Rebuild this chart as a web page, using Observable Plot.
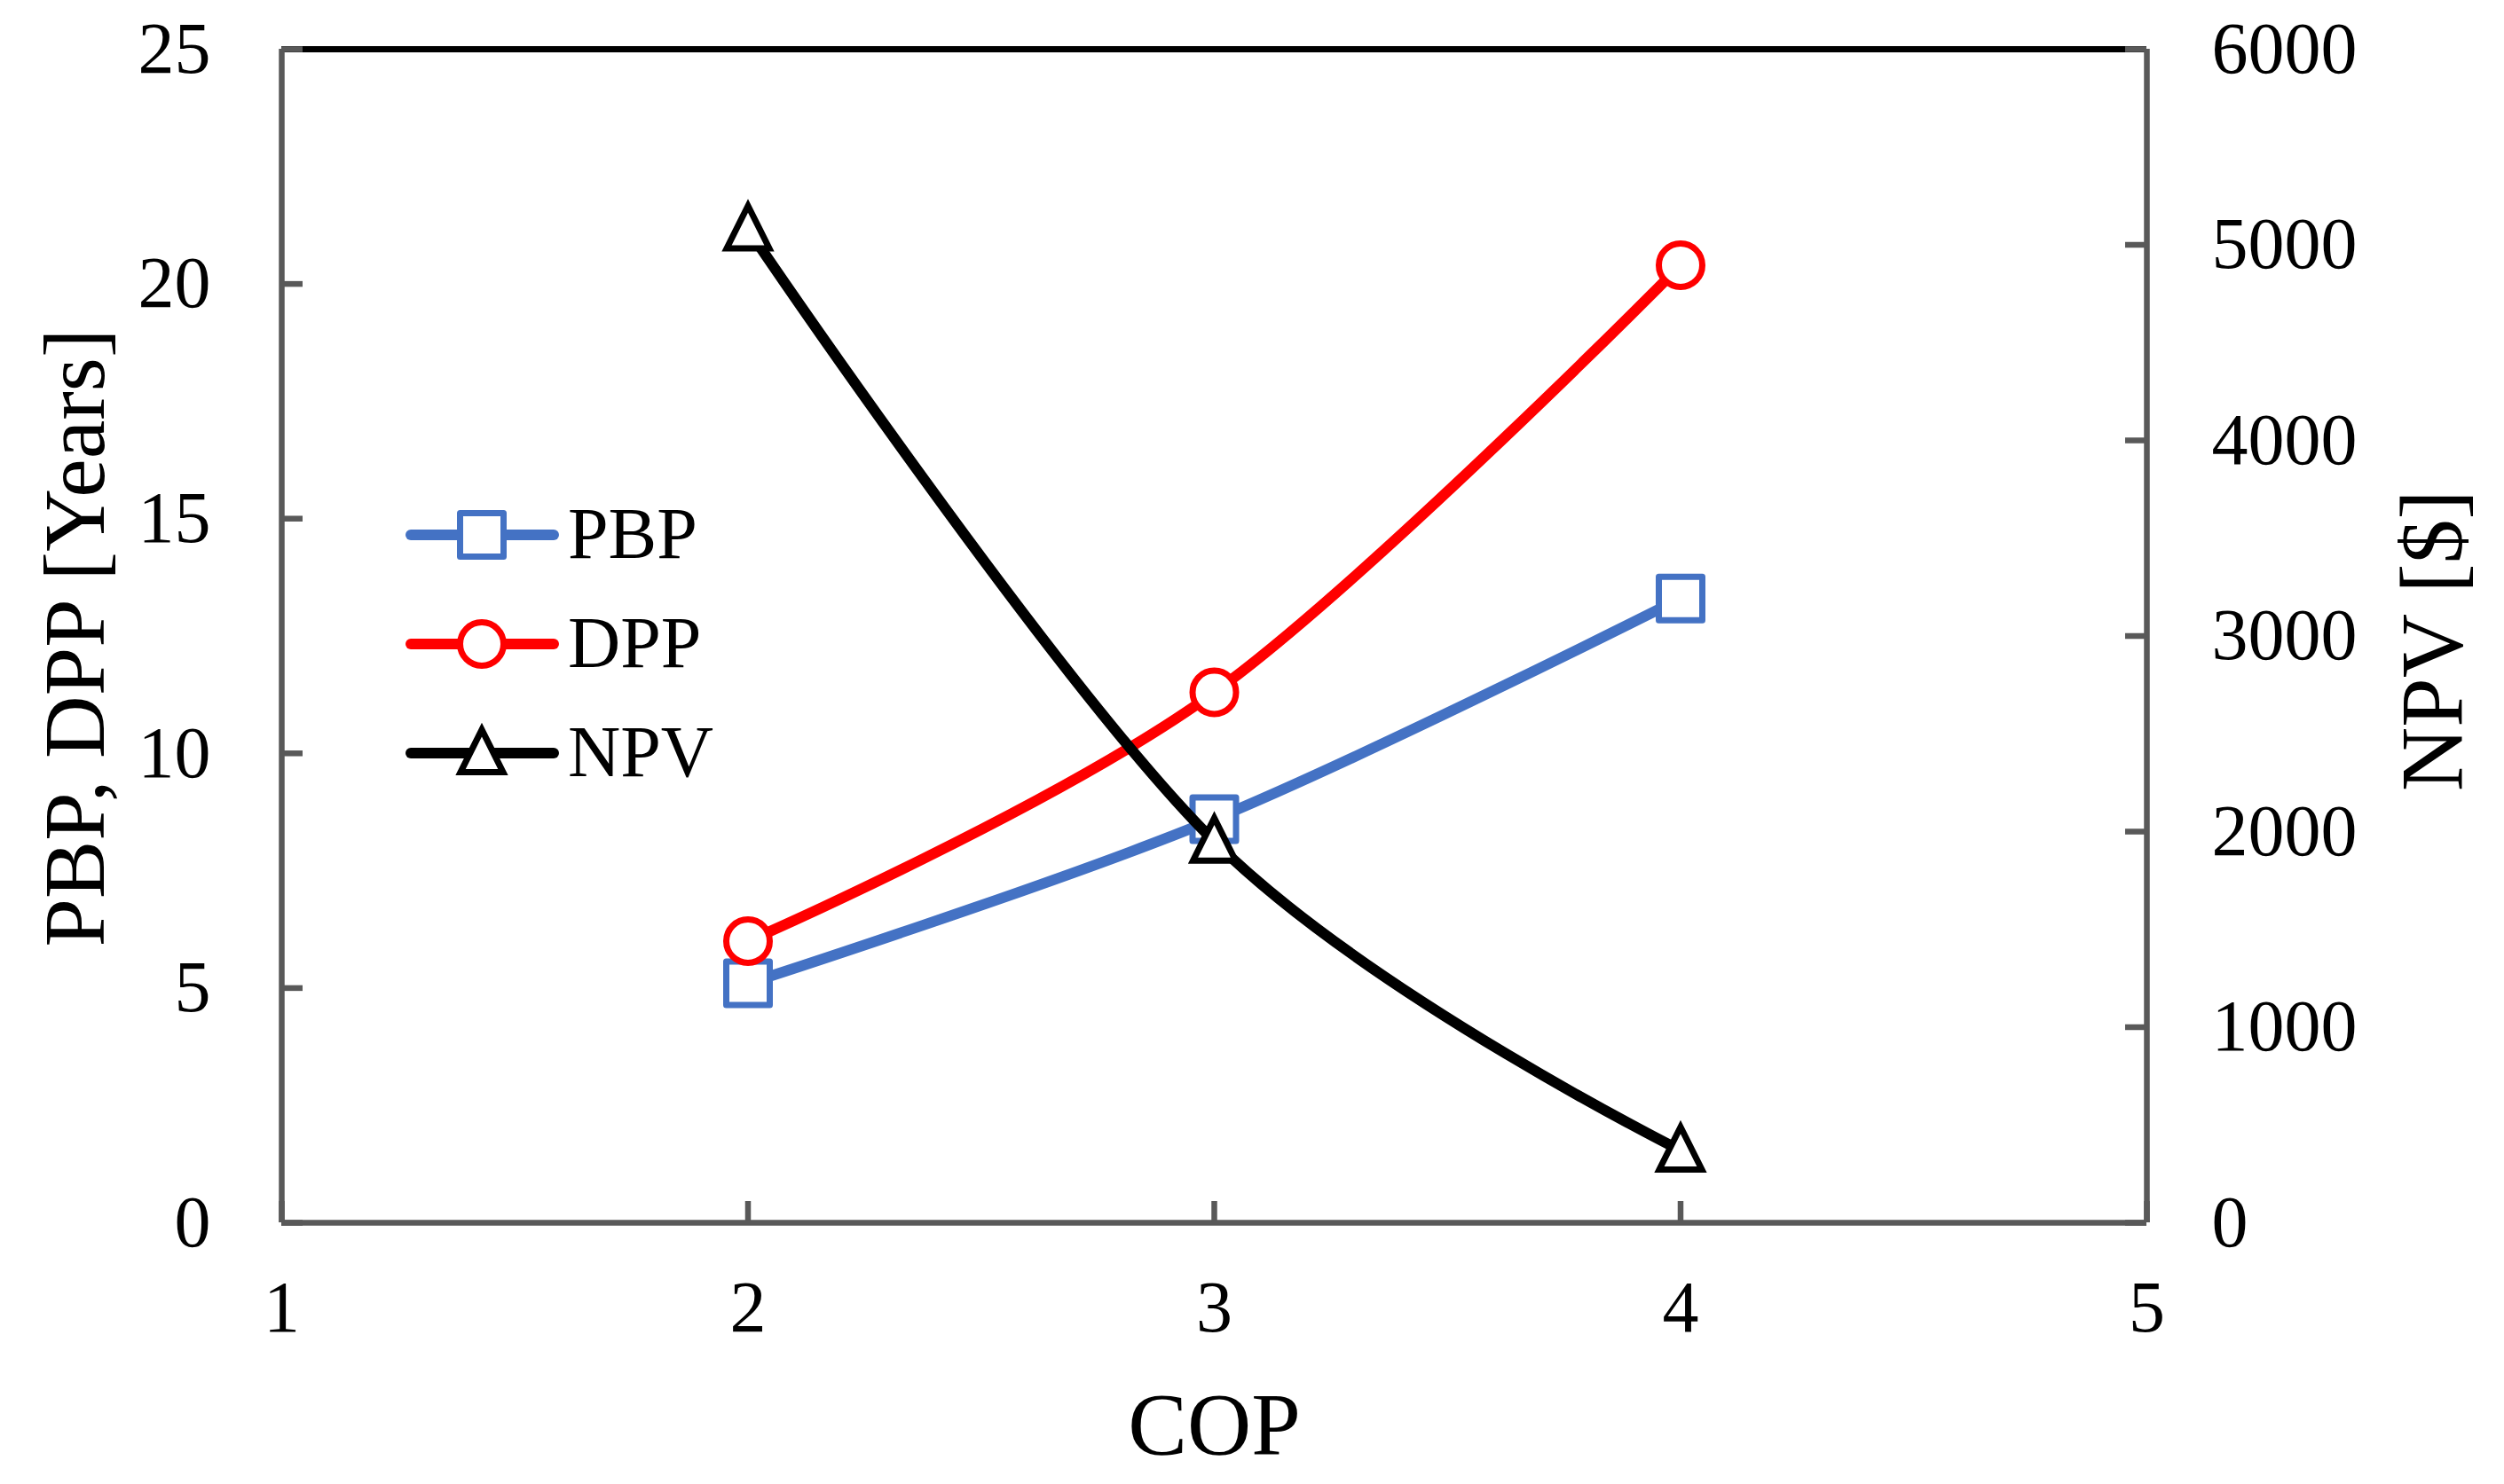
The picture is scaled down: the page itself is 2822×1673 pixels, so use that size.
<!DOCTYPE html>
<html>
<head>
<meta charset="utf-8">
<script src="https://cdn.jsdelivr.net/npm/d3@7"></script>
<script src="https://cdn.jsdelivr.net/npm/@observablehq/plot@0.6"></script>
<style>
  html, body { margin: 0; padding: 0; background: #ffffff; }
  #chart { position: relative; width: 2822px; height: 1673px; }
</style>
</head>
<body>
<div id="chart"></div>
<script>
// ---- data ----
const cop = [2, 3, 4];
const pbp = [5.1, 8.6, 13.3];
const dpp = [6.0, 11.3, 20.4];
const npv = [5080, 1950, 370];

const xTicks = [1, 2, 3, 4, 5];
const yTicks = [0, 5, 10, 15, 20, 25];
const npvTicks = [0, 1000, 2000, 3000, 4000, 5000, 6000];

const seriesNames = ["PBP", "DPP", "NPV"];
const seriesColors = ["#4472C4", "#FF0000", "#000000"];

const xLabel = "COP";
const yLabel = "PBP, DPP [Years]";
const y2Label = "NPV [$]";

// ---- derived tables ----
const yMax = 25, npvMax = 6000;
const toY = v => v * yMax / npvMax;
const pbpData = cop.map((x, i) => ({x, y: pbp[i]}));
const dppData = cop.map((x, i) => ({x, y: dpp[i]}));
const npvData = cop.map((x, i) => ({x, y: toY(npv[i])}));

// ---- custom marker shapes ----
const squareSym = {draw(ctx, size) { const r = Math.sqrt(size / Math.PI); ctx.rect(-r, -r, 2 * r, 2 * r); }};
const triSym = {draw(ctx, size) { const r = Math.sqrt(size / Math.PI); ctx.moveTo(0, -1.1 * r); ctx.lineTo(r, 0.9 * r); ctx.lineTo(-r, 0.9 * r); ctx.closePath(); }};

const W = 2822, H = 1673;
const mL = 317, mR = 403, mT = 55, mB = 295;
const pw = W - mL - mR, ph = H - mT - mB;
const axisColor = "#595959";
const axisW = 6.5;
const tickLen = 24;
const font = "'Liberation Serif', 'Times New Roman', serif";

const chart = Plot.plot({
  width: W, height: H,
  marginLeft: mL, marginRight: mR, marginTop: mT, marginBottom: mB,
  x: {domain: [1, 5]},
  y: {domain: [0, yMax]},
  style: {fontFamily: font, fontSize: "82px", color: "#000", background: "#fff", overflow: "visible"},
  marks: [
    // top border line
    Plot.ruleY([yMax], {stroke: "#000", strokeWidth: 7}),
    // axis lines
    Plot.ruleX([1], {stroke: axisColor, strokeWidth: axisW}),
    Plot.ruleX([5], {stroke: axisColor, strokeWidth: axisW}),
    Plot.ruleY([0], {stroke: axisColor, strokeWidth: axisW}),
    // inward ticks
    Plot.tickY(yTicks, {y: d => d, stroke: axisColor, strokeWidth: axisW, insetRight: pw - tickLen}),
    Plot.tickY(npvTicks.map(toY), {y: d => d, stroke: axisColor, strokeWidth: axisW, insetLeft: pw - tickLen}),
    Plot.tickX(xTicks, {x: d => d, stroke: axisColor, strokeWidth: axisW, insetTop: ph - tickLen}),
    // tick labels
    Plot.axisY({ticks: yTicks, tickSize: 0, tickPadding: 80, label: null, fontSize: 82, tickFormat: d => String(d)}),
    Plot.axisY({anchor: "right", ticks: npvTicks.map(toY), tickSize: 0, tickPadding: 73, label: null, fontSize: 82,
      tickFormat: d => String(Math.round(d * npvMax / yMax))}),
    Plot.axisX({ticks: xTicks, tickSize: 0, tickPadding: 64, label: null, fontSize: 82, tickFormat: d => String(d)}),
    // series
    Plot.line(pbpData, {x: "x", y: "y", stroke: seriesColors[0], strokeWidth: 12, curve: "cardinal", tension: 0, strokeLinecap: "round"}),
    Plot.dot(pbpData, {x: "x", y: "y", symbol: squareSym, r: 24.5, fill: "#fff", stroke: seriesColors[0], strokeWidth: 7, strokeLinejoin: "round"}),
    Plot.line(dppData, {x: "x", y: "y", stroke: seriesColors[1], strokeWidth: 12, curve: "cardinal", tension: 0, strokeLinecap: "round"}),
    Plot.dot(dppData, {x: "x", y: "y", symbol: "circle", r: 24.5, fill: "#fff", stroke: seriesColors[1], strokeWidth: 7}),
    Plot.line(npvData, {x: "x", y: "y", stroke: seriesColors[2], strokeWidth: 12, curve: "cardinal", tension: 0, strokeLinecap: "round"}),
    Plot.dot(npvData, {x: "x", y: "y", symbol: triSym, r: 24, fill: "#fff", stroke: seriesColors[2], strokeWidth: 7, strokeLinejoin: "miter"}),
    // axis titles
    Plot.text([yLabel], {text: d => d, frameAnchor: "left", textAnchor: "middle", lineAnchor: "middle", rotate: -90, dx: -232, dy: 2, fontSize: 98, fill: "#000"}),
    Plot.text([y2Label], {text: d => d, frameAnchor: "right", textAnchor: "middle", lineAnchor: "middle", rotate: -90, dx: 322, dy: 5, fontSize: 100, fill: "#000"}),
    Plot.text([xLabel], {text: d => d, frameAnchor: "bottom", textAnchor: "middle", lineAnchor: "middle", dy: 228, fontSize: 100, fill: "#000"})
  ]
});

document.getElementById("chart").appendChild(chart);

// ---- legend (inside plot area) ----
const svg = d3.select(chart);
const lg = svg.append("g").attr("class", "legend");
const legendX1 = 463, legendX2 = 624, markerX = 543, textX = 640;
const legendY = [603, 726, 849];
seriesNames.forEach((name, i) => {
  const y = legendY[i];
  const c = seriesColors[i];
  lg.append("line").attr("x1", legendX1).attr("x2", legendX2).attr("y1", y).attr("y2", y)
    .attr("stroke", c).attr("stroke-width", 12).attr("stroke-linecap", "round");
  if (i === 0) {
    lg.append("rect").attr("x", markerX - 24.5).attr("y", y - 24.5).attr("width", 49).attr("height", 49)
      .attr("fill", "#fff").attr("stroke", c).attr("stroke-width", 7).attr("stroke-linejoin", "round");
  } else if (i === 1) {
    lg.append("circle").attr("cx", markerX).attr("cy", y).attr("r", 24.5)
      .attr("fill", "#fff").attr("stroke", c).attr("stroke-width", 7);
  } else {
    const r = 24;
    lg.append("path").attr("d", `M${markerX},${y - 1.1 * r}L${markerX + r},${y + 0.9 * r}L${markerX - r},${y + 0.9 * r}Z`)
      .attr("fill", "#fff").attr("stroke", c).attr("stroke-width", 7);
  }
  lg.append("text").attr("x", textX).attr("y", y + 26).text(name)
    .attr("text-anchor", "start")
    .attr("font-family", font).attr("font-size", 82).attr("fill", "#000");
});
</script>
</body>
</html>
